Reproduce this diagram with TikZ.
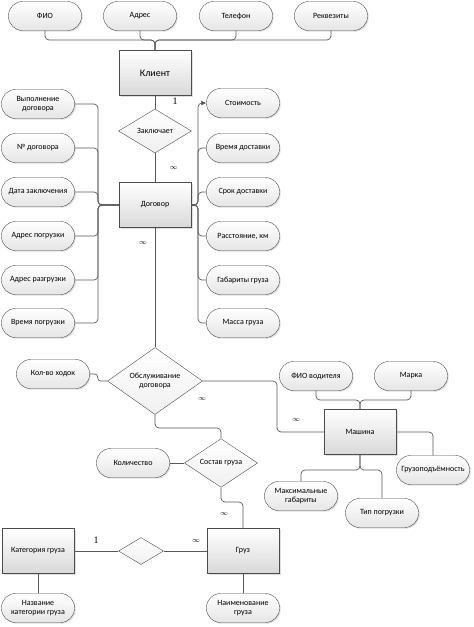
\documentclass[tikz,border=0pt]{standalone}
\usepackage{fontspec}
\setmainfont{Carlito}
\newfontfamily\numfont{Liberation Serif}
\usetikzlibrary{shapes.geometric,shadows,arrows.meta}

\begin{document}
\begin{tikzpicture}[x=1pt, y=-1pt,
    attr/.style={rectangle, rounded corners=14pt, draw=black!70, top color=white, bottom color=black!10, minimum width=73pt, minimum height=29pt, inner sep=1pt, align=center, font=\fontsize{8}{9.5}\selectfont, drop shadow={opacity=0.25, shadow xshift=1.2pt, shadow yshift=-1.2pt}},
    entity/.style={rectangle, draw=black!70, top color=white, bottom color=black!15, minimum width=72pt, minimum height=45pt, align=center, font=\fontsize{8}{9.5}\selectfont, drop shadow={opacity=0.25, shadow xshift=1.5pt, shadow yshift=-1.5pt}},
    rel/.style={diamond, draw=black!70, top color=white, bottom color=black!6, minimum width=73pt, minimum height=44pt, inner sep=0pt, align=center, font=\fontsize{8}{9.5}\selectfont},
    link/.style={draw=black!65, line width=0.7pt, rounded corners=4pt},
    card/.style={font=\numfont\fontsize{10}{12}\selectfont},
    many/.style={font=\fontsize{7.5}{9}\selectfont}]
    \useasboundingbox (0,0) rectangle (474,627);

    % Клиент
    \node[attr] at (45,16) (fio) {ФИО};
    \node[attr] at (140,16) (adres) {Адрес};
    \node[attr] at (236,16) (telefon) {Телефон};
    \node[attr] at (331,16) (rekv) {Реквезиты};
    \node[entity, font=\fontsize{10}{12}\selectfont] at (155,73) (klient) {Клиент};
    \node[rel] at (155,131) (zakl) {Заключает};

    % Договор
    \node[entity] at (155,205) (dogovor) {Договор};
    \node[attr] at (38,104) (vypoln) {Выполнение\\договора};
    \node[attr] at (38,148) (nomer) {№ договора};
    \node[attr] at (38,192) (datazakl) {Дата заключения};
    \node[attr] at (38,236) (adrpogr) {Адрес погрузки};
    \node[attr] at (38,280) (adrrazgr) {Адрес разгрузки};
    \node[attr] at (38,323) (vrpogr) {Время погрузки};
    \node[attr] at (243,103) (stoim) {Стоимость};
    \node[attr] at (243,148) (vrdost) {Время доставки};
    \node[attr] at (243,192) (srok) {Срок доставки};
    \node[attr] at (243,236) (rasst) {Расстояние, км};
    \node[attr] at (243,280) (gabar) {Габариты груза};
    \node[attr] at (243,323) (massa) {Масса груза};

    % Обслуживание
    \node[rel, minimum width=95pt, minimum height=57pt] at (155,381) (obsl) {Обслуживание\\договора};
    \node[attr] at (53,374) (kolvo) {Кол-во ходок};
    \node[rel] at (221,463) (sostav) {Состав груза};
    \node[attr] at (133,463) (kolich) {Количество};

    % Машина
    \node[entity] at (360,432) (mashina) {Машина};
    \node[attr] at (316,376) (fiovod) {ФИО водителя};
    \node[attr] at (411,376) (marka) {Марка};
    \node[attr] at (433,470) (gruzopod) {Грузоподъёмность};
    \node[attr] at (301,496) (maxgab) {Максимальные\\габариты};
    \node[attr] at (382,513) (tippogr) {Тип погрузки};

    % Груз
    \node[entity] at (243,551) (gruz) {Груз};
    \node[entity] at (38,551) (kateg) {Категория груза};
    \node[rel, minimum width=45pt, minimum height=27pt] at (141,551) (svyaz) {};
    \node[attr] at (38,608) (nazv) {Название\\категории груза};
    \node[attr] at (243,608) (naim) {Наименование\\груза};

    \coordinate (kbus) at (155,40);
    \coordinate (lbus) at (98,205);
    \coordinate (rbus) at (198,205);
    \coordinate (mbend) at (277,381);
    \coordinate (sbend) at (155,428);
    \coordinate (gbend) at (221,502);
    \coordinate (mtop) at (360,400);
    \coordinate (mbot) at (360,470);

    \draw[link] (fio.south) |- (kbus) -- (klient.north);
    \draw[link] (adres.south) |- (kbus) -- (klient.north);
    \draw[link] (telefon.south) |- (kbus) -- (klient.north);
    \draw[link] (rekv.south) |- (kbus) -- (klient.north);
    \draw[link] (klient) -- node[card, pos=0.45, right=14pt] (c1) {1} (zakl);
    \draw[link] (zakl) -- node[many, right=11pt] (c2) {$\infty$} (dogovor);

    \draw[link] (vypoln.east) -| (lbus) -- (dogovor.west);
    \draw[link] (nomer.east) -| (lbus) -- (dogovor.west);
    \draw[link] (datazakl.east) -| (lbus) -- (dogovor.west);
    \draw[link] (adrpogr.east) -| (lbus) -- (dogovor.west);
    \draw[link] (adrrazgr.east) -| (lbus) -- (dogovor.west);
    \draw[link] (vrpogr.east) -| (lbus) -- (dogovor.west);
    \draw[link, -{Latex[length=5pt, width=5pt]}] (dogovor.east) -- (rbus) |- (stoim.west);
    \draw[link] (dogovor.east) -- (rbus) |- (vrdost.west);
    \draw[link] (dogovor.east) -- (rbus) |- (srok.west);
    \draw[link] (dogovor.east) -- (rbus) |- (rasst.west);
    \draw[link] (dogovor.east) -- (rbus) |- (gabar.west);
    \draw[link] (dogovor.east) -- (rbus) |- (massa.west);

    \draw[link] (dogovor.south) -- (obsl.north);
    \node[many] at (143,243) (c3) {$\infty$};
    \draw[link, rounded corners=3pt] (kolvo.east) -- ++(8,0) |- (obsl.west);
    \draw[link] (obsl.east) -- (mbend) |- (mashina.west);
    \node[many] at (202,399) (c4) {$\infty$};
    \node[many] at (296,420) (c5) {$\infty$};
    \draw[link] (obsl.south) -- (sbend) -| (sostav.north);
    \draw[link] (kolich.east) -- (sostav.west);
    \draw[link] (sostav.south) -- (gbend) -| (gruz.north);
    \node[many] at (224,514) (c6) {$\infty$};

    \draw[link] (fiovod.south) |- (mtop) -- (mashina.north);
    \draw[link] (marka.south) |- (mtop) -- (mashina.north);
    \draw[link] (mashina.east) -| (gruzopod.north);
    \draw[link] (mashina.south) -- (mbot) -| (maxgab.north);
    \draw[link] (mashina.south) -- (mbot) -| (tippogr.north);

    \draw[link] (kateg.east) -- (svyaz.west);
    \draw[link] (svyaz.east) -- (gruz.west);
    \node[card] at (96,540) (c7) {1};
    \node[many] at (196,541) (c8) {$\infty$};
    \draw[link] (kateg.south) -- (nazv.north);
    \draw[link] (gruz.south) -- (naim.north);
\end{tikzpicture}
\end{document}
